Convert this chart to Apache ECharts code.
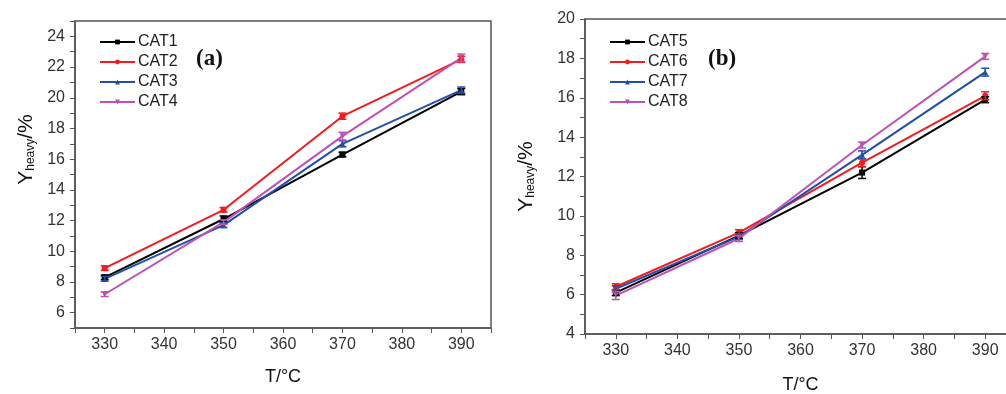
<!DOCTYPE html>
<html>
<head>
<meta charset="utf-8">
<script src="https://cdn.jsdelivr.net/npm/echarts@6/dist/echarts.min.js"></script>
<style>
html,body{margin:0;padding:0;background:#fff;}
#c{width:1006px;height:394px;}
</style>
</head>
<body>
<div id="c"></div>
<script>
// ---- data ----
const temps = [330, 350, 370, 390];
// panel (a)
const cat1 = [8.3, 12.1, 16.3, 20.4];
const cat2 = [8.9, 12.7, 18.8, 22.5];
const cat3 = [8.2, 11.7, 17.0, 20.5];
const cat4 = [7.2, 11.9, 17.5, 22.6];
const err1 = [0.15, 0.2, 0.15, 0.2];
const err2 = [0.15, 0.15, 0.2, 0.2];
const err3 = [0.15, 0.15, 0.2, 0.2];
const err4 = [0.15, 0.15, 0.25, 0.25];
// panel (b)
const cat5 = [6.1, 9.0, 12.2, 15.9];
const cat6 = [6.4, 9.15, 12.7, 16.1];
const cat7 = [6.3, 8.95, 13.1, 17.3];
const cat8 = [5.95, 8.85, 13.6, 18.1];
const err5 = [0.15, 0.15, 0.3, 0.15];
const err6 = [0.15, 0.15, 0.2, 0.2];
const err7 = [0.15, 0.15, 0.2, 0.2];
const err8 = [0.2, 0.15, 0.15, 0.15];
// tick labels
const xTickLabels = [330, 340, 350, 360, 370, 380, 390];
const yTickLabelsA = [6, 8, 10, 12, 14, 16, 18, 20, 22, 24];
const yTickLabelsB = [4, 6, 8, 10, 12, 14, 16, 18, 20];

const namesA = ['CAT1', 'CAT2', 'CAT3', 'CAT4'];
const namesB = ['CAT5', 'CAT6', 'CAT7', 'CAT8'];
const colors = ['#000000', '#f51a1e', '#2150a8', '#bf50b4'];
const symbols = ['rect', 'circle', 'triangle', 'path://M0,0 L10,0 L5,9 Z'];

const axisColor = '#555';
const labelColor = '#333';
const font = 'Liberation Sans, Arial, sans-serif';

function xAxis(gi, gap) {
  return {
    type: 'value', gridIndex: gi, min: 325, max: 395, interval: 5,
    axisLine: { show: true, lineStyle: { color: axisColor, width: 1.5 } },
    axisTick: { show: true, length: 5, lineStyle: { color: axisColor, width: 1 } },
    splitLine: { show: false },
    axisLabel: {
      margin: 9, color: labelColor, fontSize: 16, fontFamily: font,
      formatter: v => xTickLabels.indexOf(v) >= 0 ? String(v) : ''
    },
    name: 'T/°C', nameLocation: 'middle', nameGap: gap,
    nameTextStyle: { fontSize: 18, color: '#111', fontFamily: font }
  };
}
function yAxis(gi, min, max, labels, gap, shift) {
  return {
    type: 'value', gridIndex: gi, min: min, max: max, interval: 1,
    axisLine: { show: true, lineStyle: { color: axisColor, width: 1.5 } },
    axisTick: { show: true, length: 5, lineStyle: { color: axisColor, width: 1 } },
    splitLine: { show: false },
    axisLabel: {
      margin: 10, color: labelColor, fontSize: 16, fontFamily: font,
      formatter: v => labels.indexOf(v) >= 0 ? String(v) : ''
    },
    name: '{a|Y}{b|heavy}{a|/%}', nameLocation: 'middle', nameGap: gap, nameRotate: 90,
    nameTextStyle: {
      padding: [0, 0, 0, shift],
      rich: {
        a: { fontSize: 21, color: '#111', fontFamily: font },
        b: { fontSize: 12, color: '#111', fontFamily: font, padding: [10, 0, 0, 0] }
      }
    }
  };
}

function lineSeries(name, vals, i, gi) {
  return {
    type: 'line', name: name, xAxisIndex: gi, yAxisIndex: gi,
    data: temps.map((t, k) => [t, vals[k]]),
    color: colors[i], symbol: symbols[i], symbolSize: 6,
    lineStyle: { width: 2, color: colors[i] },
    itemStyle: { color: colors[i] },
    z: 3
  };
}
function errSeries(name, vals, errs, i, gi) {
  return {
    type: 'custom', name: name + '_err', xAxisIndex: gi, yAxisIndex: gi,
    data: temps.map((t, k) => [t, vals[k] - errs[k], vals[k] + errs[k]]),
    renderItem: function (params, api) {
      const lo = api.coord([api.value(0), api.value(1)]);
      const hi = api.coord([api.value(0), api.value(2)]);
      const hw = 4;
      const st = { stroke: colors[i], lineWidth: 1.5 };
      return {
        type: 'group', children: [
          { type: 'line', shape: { x1: lo[0], y1: lo[1], x2: hi[0], y2: hi[1] }, style: st },
          { type: 'line', shape: { x1: lo[0] - hw, y1: lo[1], x2: lo[0] + hw, y2: lo[1] }, style: st },
          { type: 'line', shape: { x1: hi[0] - hw, y1: hi[1], x2: hi[0] + hw, y2: hi[1] }, style: st }
        ]
      };
    },
    z: 4, silent: true
  };
}

const valsA = [cat1, cat2, cat3, cat4];
const errsA = [err1, err2, err3, err4];
const valsB = [cat5, cat6, cat7, cat8];
const errsB = [err5, err6, err7, err8];

const series = [];
namesA.forEach((n, i) => { series.push(lineSeries(n, valsA[i], i, 0)); series.push(errSeries(n, valsA[i], errsA[i], i, 0)); });
namesB.forEach((n, i) => { series.push(lineSeries(n, valsB[i], i, 1)); series.push(errSeries(n, valsB[i], errsB[i], i, 1)); });

const legendCommon = {
  orient: 'vertical', itemWidth: 35, itemHeight: 6, itemGap: 4,
  textStyle: { fontSize: 16, color: '#222', fontFamily: font, padding: [0, 0, 0, -2] },
  inactiveColor: '#ccc'
};

const chart = echarts.init(document.getElementById('c'), null, { renderer: 'canvas' });
chart.setOption({
  backgroundColor: '#fff',
  animation: false,
  grid: [
    { left: 75, top: 21, width: 416, height: 307, show: true, borderColor: axisColor, borderWidth: 1.5, backgroundColor: 'transparent', outerBoundsMode: 'none', containLabel: false },
    { left: 585, top: 19, width: 431, height: 315, show: true, borderColor: axisColor, borderWidth: 1.5, backgroundColor: 'transparent', outerBoundsMode: 'none', containLabel: false }
  ],
  xAxis: [xAxis(0, 40), xAxis(1, 42)],
  yAxis: [yAxis(0, 5, 25, yTickLabelsA, 38, 50), yAxis(1, 4, 20, yTickLabelsB, 48, 0)],
  legend: [
    Object.assign({ left: 94, top: 29, data: namesA }, legendCommon),
    Object.assign({ left: 604, top: 29, data: namesB }, legendCommon)
  ],
  graphic: [
    { type: 'text', left: 196, top: 48, style: { text: '(a)', font: 'bold 23px "Liberation Serif", "Times New Roman", serif', fill: '#111' } },
    { type: 'text', left: 708, top: 48, style: { text: '(b)', font: 'bold 23px "Liberation Serif", "Times New Roman", serif', fill: '#111' } }
  ],
  series: series
});
</script>
</body>
</html>
